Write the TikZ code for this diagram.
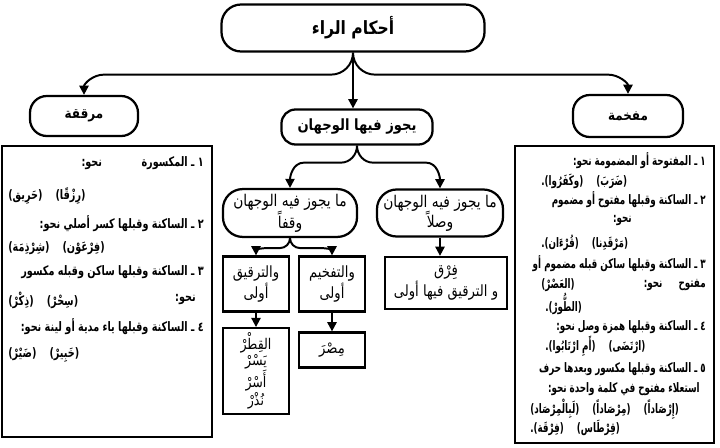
\documentclass[tikz,border=0pt]{standalone}
\usepackage{fontspec}
\usetikzlibrary{arrows.meta,calc}
\TeXXeTstate=1
\newfontfamily\arfont[Script=Arabic,FakeStretch=0.85]{DejaVu Sans}
\newfontfamily\arbody[Script=Arabic,FakeStretch=0.74]{DejaVu Sans}
\newfontfamily\arnarrow[Script=Arabic,FakeStretch=0.67]{DejaVu Sans}
\newcommand{\rl}[1]{\beginR #1\endR}

\tikzset{
  topbox/.style={draw, line width=1.6pt, rounded corners=14pt, font=\arfont\bfseries\fontsize{13}{15}\selectfont},
  kindbox/.style={draw, line width=1.6pt, rounded corners=12pt, font=\arfont\bfseries\fontsize{10}{12}\selectfont},
  casebox/.style={draw, line width=1.6pt, rounded corners=14pt, align=center, font=\arfont\fontsize{11.5}{14}\selectfont},
  notebox/.style={draw, line width=1.6pt, align=center, font=\arfont\fontsize{11}{12.5}\selectfont},
  rtxt/.style={anchor=east, inner sep=0pt, font=\arbody\bfseries\fontsize{9.3}{10}\selectfont},
  ltxt/.style={anchor=west, inner sep=0pt, font=\arbody\bfseries\fontsize{9.3}{10}\selectfont},
  rtxtb/.style={rtxt, font=\arnarrow\bfseries\fontsize{9.3}{10}\selectfont},
  ltxtb/.style={ltxt, font=\arnarrow\bfseries\fontsize{9.3}{10}\selectfont},
  arr/.style={line width=1.4pt, -{Triangle[length=6.5pt,width=6.5pt]}}
}

\begin{document}
\begin{tikzpicture}[x=0.025cm,y=-0.025cm]
\useasboundingbox (0,0) rectangle (720,447);

% top level
\node[topbox, minimum width=6.575cm, minimum height=1.175cm] (title) at (353,28) {\rl{أحكام الراء}};
\node[kindbox, minimum width=2.7cm, minimum height=1cm] (rq) at (84,116) {\rl{مرققة}};
\node[kindbox, minimum width=2.75cm, minimum height=1.05cm] (mf) at (628,116) {\rl{مفخمة}};
\node[kindbox, minimum width=3.775cm, minimum height=0.875cm, rounded corners=10pt, font=\arfont\bfseries\fontsize{11}{13}\selectfont] (mid) at (357,127) {\rl{يجوز فيها الوجهان}};

\coordinate (tj) at ($(title.south)+(0,22)$);
\draw[arr] (title.south) to[out=-90,in=0] ($(tj)+(-22,0)$) -- ($(rq.north|-tj)+(20,0)$) to[out=180,in=90] (rq.north);
\draw[arr] (title.south) to[out=-90,in=180] ($(tj)+(22,0)$) -- ($(mf.north|-tj)+(-20,0)$) to[out=0,in=90] (mf.north);
\draw[arr] (title.south) -- (title.south|-mid.north);

% both ways
\node[casebox, minimum width=3.35cm, minimum height=1.175cm] (vl) at (290,213) {\rl{ما يجوز فيه الوجهان}\\\rl{وقفاً}};
\node[casebox, minimum width=3.15cm, minimum height=1.175cm] (vr) at (440,213) {\rl{ما يجوز فيه الوجهان}\\\rl{وصلاً}};

\coordinate (mj) at ($(mid.south)+(0,17)$);
\draw[arr] (mid.south) to[out=-90,in=0] ($(mj)+(-16,0)$) -- ($(vl.north|-mj)+(14,0)$) to[out=180,in=90] (vl.north);
\draw[arr] (mid.south) to[out=-90,in=180] ($(mj)+(16,0)$) -- ($(vr.north|-mj)+(-14,0)$) to[out=0,in=90] (vr.north);

\node[notebox, minimum width=1.65cm, minimum height=1.375cm] (tr) at (256,284) {\rl{والترقيق}\\\rl{أولى}};
\node[notebox, minimum width=1.65cm, minimum height=1.375cm] (tf) at (332,284) {\rl{والتفخيم}\\\rl{أولى}};
\node[notebox, minimum width=3.05cm, minimum height=1.3cm] (fr) at (446,283) {\rl{فِرْق}\\\rl{و الترقيق فيها أولى}};
\node[notebox, minimum width=1.65cm, minimum height=1.95cm, font=\arfont\fontsize{10.5}{11.5}\selectfont] (qt) at (256,371) {\rl{القِطْرْ}\\\rl{يَسْرْ}\\\rl{أَسْرْ}\\\rl{نُذْرْ}};
\node[notebox, minimum width=1.65cm, minimum height=0.875cm] (ms) at (332,350) {\rl{مِصْرَ}};

\coordinate (vj) at ($(vl.south)+(0,10)$);
\draw[arr] (vl.south) to[out=-90,in=0] ($(vj)+(-10,0)$) -- ($(tr.north|-vj)+(10,0)$) to[out=180,in=90] (tr.north);
\draw[arr] (vl.south) to[out=-90,in=180] ($(vj)+(10,0)$) -- ($(tf.north|-vj)+(-10,0)$) to[out=0,in=90] (tf.north);
\draw[arr] (vr.south) -- (vr.south|-fr.north);
\draw[arr] (tr.south) -- (qt.north);
\draw[arr] (tf.south) -- (ms.north);

% left panel
\draw[line width=1.8pt] (2,146) rectangle (212,437);
\node[rtxt] (l1) at (204,163) {\rl{١ ـ المكسورة \hspace{2.5em} نحو:}};
\node[ltxt] (l2) at (8,196) {\rl{(رِزْقًا)\quad(حَرِيق)}};
\node[rtxt] (l3) at (204,224) {\rl{٢ ـ الساكنة وقبلها كسر أصلي نحو:}};
\node[ltxt] (l4) at (8,248) {\rl{(فِرْعَوْن)\quad(شِرْذِمَة)}};
\node[rtxt] (l5) at (204,272) {\rl{٣ ـ الساكنة وقبلها ساكن وقبله مكسور}};
\node[rtxt] (l6) at (196,300) {\rl{نحو:}};
\node[ltxt] (l6b) at (8,300) {\rl{(سِحْرْ)\quad(ذِكْرْ)}};
\node[rtxt] (l7) at (204,327) {\rl{٤ ـ الساكنة وقبلها ياء مدية أو لينة نحو:}};
\node[ltxt] (l8) at (8,355) {\rl{(خَبِيرْ)\quad(ضَيْرْ)}};

% right panel
\draw[line width=1.8pt] (515,146) rectangle (714,443);
\node[rtxtb] (r1) at (706,161) {\rl{١ ـ المفتوحة أو المضمومة نحو:}};
\node[ltxtb] (r2) at (541,181) {\rl{(ضَرَبَ)\quad(وكَفَرُوا).}};
\node[rtxtb] (r3) at (706,200) {\rl{٢ ـ الساكنة وقبلها مفتوح أو مضموم}};
\node[rtxtb] (r4) at (632,221) {\rl{نحو:}};
\node[ltxtb] (r5) at (541,243) {\rl{(مَرْقَدِنا)\quad(قُرْءَان).}};
\node[rtxtb] (r6) at (706,264) {\rl{٣ ـ الساكنة وقبلها ساكن قبله مضموم أو}};
\node[rtxtb] (r7) at (706,285) {\rl{مفتوح \quad نحو:}};
\node[ltxtb] (r7b) at (541,285) {\rl{(العَصْرْ)}};
\node[ltxtb] (r8) at (545,304) {\rl{(الطُّورْ).}};
\node[rtxtb] (r9) at (706,327) {\rl{٤ ـ الساكنة وقبلها همزة وصل نحو:}};
\node[ltxtb] (r10) at (545,346) {\rl{(ارْتَضَى)\quad(أَمِ ارْتَابُوا).}};
\node[rtxtb] (r11) at (706,369) {\rl{٥ ـ الساكنة وقبلها مكسور وبعدها حرف}};
\node[rtxtb] (r12) at (700,389) {\rl{استعلاء مفتوح في كلمة واحدة نحو:}};
\node[ltxtb] (r13) at (530,409) {\rl{(إِرْصَاداً)\quad(مِرْصَاداً)\quad(لَبِالْمِرْصَاد)}};
\node[ltxtb] (r14) at (530,428) {\rl{(قِرْطَاس)\quad(فِرْقَة).}};
\end{tikzpicture}
\end{document}
